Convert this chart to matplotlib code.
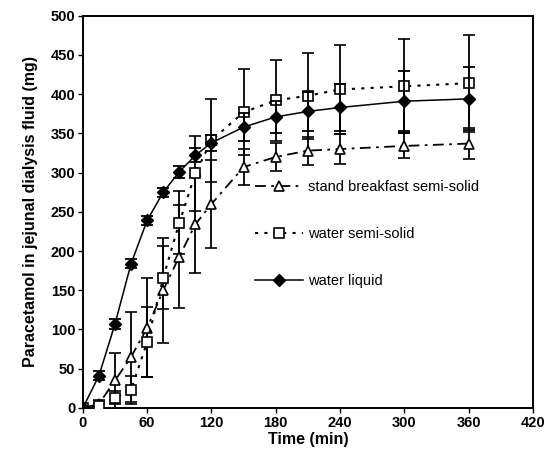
import matplotlib
matplotlib.use("Agg")
import matplotlib.pyplot as plt
from matplotlib.lines import Line2D

plt.rcParams['font.family'] = ['Liberation Sans', 'DejaVu Sans']

time = [0, 15, 30, 45, 60, 75, 90, 105, 120, 150, 180, 210, 240, 300, 360]

breakfast_semi = [0, 5, 35, 65, 102, 150, 193, 234, 260, 307, 320, 328, 330, 334, 337]
breakfast_err = [0, 5, 35, 57, 63, 67, 66, 62, 56, 23, 18, 18, 19, 16, 20]

water_semi = [0, 3, 13, 23, 84, 166, 236, 299, 341, 377, 392, 398, 406, 410, 414]
water_semi_err = [0, 3, 8, 18, 45, 40, 40, 48, 53, 55, 52, 55, 57, 60, 62]

water_liquid = [0, 41, 107, 184, 239, 275, 301, 322, 338, 358, 371, 378, 383, 391, 394]
water_liquid_err = [0, 6, 7, 6, 6, 6, 8, 9, 10, 18, 20, 25, 30, 38, 40]

labels = ["stand breakfast semi-solid", "water semi-solid", "water liquid"]

fig = plt.figure(figsize=(5.45, 4.76), dpi=100)
ax = fig.add_axes([0.152, 0.143, 0.826, 0.824])

ekw = dict(ecolor='black', elinewidth=1.3, capsize=4, capthick=1.3)

styles = [
    dict(linestyle=(0, (6, 3, 1.5, 3)), linewidth=1.3, marker='^', markersize=7.5,
         markerfacecolor='white', markeredgecolor='black', markeredgewidth=1.2),
    dict(linestyle=(0, (1.5, 3)), linewidth=1.5, marker='s', markersize=7.5,
         markerfacecolor='white', markeredgecolor='black', markeredgewidth=1.2),
    dict(linestyle='-', linewidth=1.1, marker='D', markersize=6,
         markerfacecolor='black', markeredgecolor='black'),
]

ax.errorbar(time, breakfast_semi, yerr=breakfast_err, color='black', zorder=3,
            **styles[0], **ekw)
ax.errorbar(time, water_semi, yerr=water_semi_err, color='black', zorder=3,
            **styles[1], **ekw)
ax.errorbar(time, water_liquid, yerr=water_liquid_err, color='black', zorder=4,
            **styles[2], **ekw)

ax.set_xlim(0, 420)
ax.set_ylim(0, 500)
ax.set_xticks(range(0, 421, 60))
ax.set_yticks(range(0, 501, 50))
ax.tick_params(direction='out', length=3.5, width=1, labelsize=10.5, pad=2)
for lab in ax.get_xticklabels() + ax.get_yticklabels():
    lab.set_fontweight('bold')
for s in ax.spines.values():
    s.set_linewidth(1.4)

ax.set_xlabel("Time (min)", fontsize=11.5, fontweight='bold', labelpad=2)
ax.set_ylabel("Paracetamol in jejunal dialysis fluid (mg)", fontsize=11.5,
              fontweight='bold', labelpad=9)

handles = [Line2D([], [], color='black', **st) for st in styles]
ax.legend(handles, labels, loc='upper left', bbox_to_anchor=(0.37, 0.595),
          frameon=False, fontsize=10.5, handlelength=3.3, labelspacing=2.25,
          handletextpad=0.3, borderaxespad=0)

fig.savefig("out.png", dpi=100, facecolor='white')
